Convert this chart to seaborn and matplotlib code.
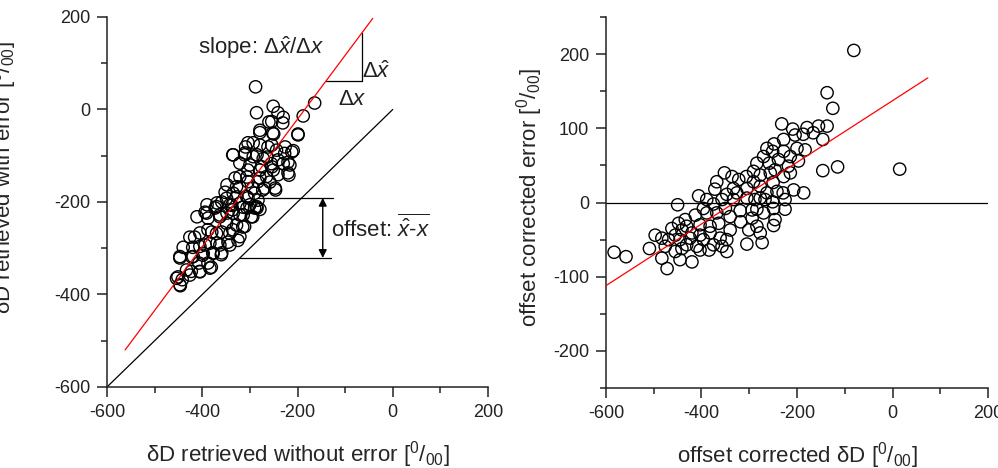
import numpy as np
import pandas as pd
import seaborn as sns
import matplotlib
matplotlib.use("Agg")
import matplotlib.pyplot as plt
from matplotlib.ticker import MultipleLocator

# ---------------- data: left panel ----------------
left_x = [-288, -286, -251, -241, -230, -260, -279, -250, -164, -188, -199, -209, -216, -218,
          -246, -293, -309, -335, -311, -293, -272, -262, -244, -227, -230, -255, -279, -304,
          -321, -328, -304, -283, -265, -251, -269, -290, -307, -335, -349, -342, -321, -300,
          -286, -279, -391, -370, -363, -335, -314, -297, -349, -328, -311, -388, -370, -342,
          -321, -416, -405, -384, -363, -342, -398, -377, -360, -419, -447, -407, -388, -381,
          -433, -423, -454, -442, -446, -405,
          -254, -231, -279, -252, -199, -304, -279, -254, -226, -212, -336, -310, -285, -264,
          -241, -220, -321, -300, -275, -254, -220, -241, -331, -306, -279, -258, -247, -348,
          -321, -294, -273, -352, -327, -304, -283, -359, -338, -315, -290, -394, -373, -348,
          -321, -294,
          -390, -369, -411, -388, -363, -336, -306, -285, -426, -405, -380, -359, -336, -315,
          -440, -420, -394, -369, -346, -325, -447, -422, -399, -378, -359, -384, -405, -426,
          -451, -447]
left_y = [49, -7, 7, -7, -17, -27, -45, -53, 14, -14, -53, -89, -120, -142,
          -174, -72, -81, -98, -98, -102, -106, -81, -88, -95, -117, -117, -131, -131,
          -145, -167, -156, -156, -145, -131, -170, -181, -188, -181, -192, -206, -203, -206,
          -210, -216, -224, -210, -232, -224, -228, -232, -246, -250, -253, -260, -268, -268,
          -275, -276, -296, -289, -293, -293, -311, -311, -314, -318, -318, -332, -332, -341,
          -347, -350, -365, -368, -381, -350,
          -26, -29, -50, -51, -55, -72, -77, -77, -81, -92, -98, -94, -98, -103,
          -109, -114, -116, -120, -124, -124, -137, -141, -148, -146, -148, -157, -170, -163,
          -168, -170, -174, -179, -189, -191, -196, -200, -207, -211, -213, -222, -213, -224,
          -228, -232,
          -206, -202, -232, -235, -228, -217, -213, -213, -276, -267, -265, -265, -260, -254,
          -298, -298, -293, -289, -287, -283, -321, -319, -315, -310, -310, -343, -351, -358,
          -362, -379]
left_fit_x = [-562, -42]
left_fit_y = [-520, 197]
identity_x = [-600, 0]
identity_y = [-600, 0]
slope_tri_x = [-140, -65, -65]
slope_tri_y = [62, 62, 166]
offset_upper_x = [-283, -126]
offset_upper_y = [-191, -191]
offset_lower_x = [-321, -130]
offset_lower_y = [-321, -321]
offset_arrow_x = -147

# ---------------- data: right panel ----------------
right_x = [-81, -137, -125, 15, -115, -146, -232, -209, -179, -155, -137, -146, -228, -204,
           -183, -200, -248, -263, -228, -214, -251, -270, -284, -258, -239, -218, -246, -228,
           -214, -256, -277, -291, -291, -306, -322, -352, -368, -336, -333, -305, -277, -263,
           -242, -207, -186, -225, -251, -225, -277, -305, -333, -357, -389, -406, -450, -375,
           -396, -350, -319, -294, -270, -249, -294, -318, -340, -368, -389, -413, -434, -448,
           -431, -403, -382, -364, -340, -284, -249, -277, -301, -420, -441, -462, -497, -483,
           -469, -455, -445, -424, -403, -382, -361, -347, -357, -375, -396, -410, -431, -441,
           -455, -476, -509, -403, -384, -347, -305, -273, -420, -445, -483, -472, -583, -558,
           -166, -187, -197, -250, -229, -326, -347, -372, -288, -267, -284, -246]
right_y = [205, 148, 127, 45, 48, 43, 106, 99, 101, 103, 103, 85, 85, 91,
           71, 73, 79, 73, 69, 62, 69, 62, 53, 53, 58, 49, 44, 35,
           40, 40, 37, 42, 28, 35, 31, 40, 28, 35, 19, 19, 22, 13,
           15, 17, 13, 4, 1, -9, 6, 6, 4, 4, 4, 9, -3, -2,
           -8, -8, -11, -10, -14, -8, -21, -26, -19, -14, -14, -17, -23, -28,
           -32, -30, -32, -28, -37, -32, -31, -41, -37, -41, -37, -35, -44, -48,
           -50, -44, -50, -48, -44, -41, -48, -50, -59, -57, -50, -59, -57, -62,
           -66, -59, -62, -64, -64, -66, -56, -54, -80, -77, -75, -89, -67, -73,
           94, 92, 56, 27, 13, 13, 11, 18, 4, 4, -9, -23]
right_fit_x = [-600, 74]
right_fit_y = [-112, 168]
zero_x = [-600, 200]
zero_y = [0, 0]

# ---------------- style ----------------
sns.set_style("ticks")
plt.rcParams["font.family"] = ["Liberation Sans", "DejaVu Sans"]
plt.rcParams["mathtext.fontset"] = "custom"
plt.rcParams["mathtext.rm"] = "Liberation Sans"
plt.rcParams["mathtext.it"] = "Liberation Sans:italic"
plt.rcParams["mathtext.bf"] = "Liberation Sans:bold"
plt.rcParams["axes.unicode_minus"] = False
plt.rcParams["text.color"] = "#222222"

TICK_FS = 13
LABEL_FS = 16
ANN_FS = 16

fig = plt.figure(figsize=(9.98, 4.68), dpi=100)
axL = fig.add_axes([0.1072, 0.1731, 0.3818, 0.7906])
axR = fig.add_axes([0.6072, 0.1709, 0.3828, 0.7927])


def style_axis(ax):
    for s in ["top", "right"]:
        ax.spines[s].set_visible(False)
    for s in ["left", "bottom"]:
        ax.spines[s].set_linewidth(1.1)
        ax.spines[s].set_color("#222222")
    ax.tick_params(which="major", direction="out", length=7, width=1.1,
                   labelsize=TICK_FS, colors="#222222", pad=5)
    ax.tick_params(which="minor", direction="out", length=4, width=1.1,
                   colors="#222222")


# ---------------- left panel ----------------
sns.scatterplot(x=left_x, y=left_y, ax=axL, marker="o", s=78,
                facecolor="none", edgecolor="black", linewidth=1.0, zorder=3)
sns.lineplot(x=identity_x, y=identity_y, ax=axL, color="black", linewidth=0.9)
sns.lineplot(x=left_fit_x, y=left_fit_y, ax=axL, color="red", linewidth=0.9, zorder=4)
axL.plot(slope_tri_x, slope_tri_y, color="black", linewidth=0.9)
axL.plot(offset_upper_x, offset_upper_y, color="black", linewidth=0.9)
axL.plot(offset_lower_x, offset_lower_y, color="black", linewidth=0.9)
axL.annotate("", xy=(offset_arrow_x, offset_lower_y[0]),
             xytext=(offset_arrow_x, offset_upper_y[0]),
             arrowprops=dict(arrowstyle="<|-|>", color="black", lw=1.0,
                             mutation_scale=12, shrinkA=0, shrinkB=0))
axL.text(-409, 133, r"slope: Δ$\hat{x}$/Δ$x$", fontsize=ANN_FS, va="center", ha="left")
axL.text(-64, 81, r"Δ$\hat{x}$", fontsize=ANN_FS, va="center", ha="left")
axL.text(-115, 22, r"Δ$x$", fontsize=ANN_FS, va="center", ha="left")
axL.text(-129, -258, r"offset: $\overline{\hat{x}\text{-}x}$", fontsize=ANN_FS,
         va="center", ha="left")

axL.set_xlim(-600, 200)
axL.set_ylim(-600, 200)
axL.xaxis.set_major_locator(MultipleLocator(200))
axL.xaxis.set_minor_locator(MultipleLocator(100))
axL.yaxis.set_major_locator(MultipleLocator(200))
axL.yaxis.set_minor_locator(MultipleLocator(100))
style_axis(axL)
axL.set_xlabel(r"δD retrieved without error [$^{0}$/$_{00}$]", fontsize=LABEL_FS, labelpad=13)
axL.set_ylabel(r"δD retrieved with error [$^{0}$/$_{00}$]", fontsize=LABEL_FS)
axL.yaxis.set_label_coords(-0.23, 0.565)

# ---------------- right panel ----------------
sns.scatterplot(x=right_x, y=right_y, ax=axR, marker="o", s=78,
                facecolor="none", edgecolor="black", linewidth=1.0, zorder=3)
sns.lineplot(x=zero_x, y=zero_y, ax=axR, color="black", linewidth=0.9)
sns.lineplot(x=right_fit_x, y=right_fit_y, ax=axR, color="red", linewidth=0.9, zorder=4)

axR.set_xlim(-600, 200)
axR.set_ylim(-250, 250)
axR.xaxis.set_major_locator(MultipleLocator(200))
axR.xaxis.set_minor_locator(MultipleLocator(100))
axR.yaxis.set_major_locator(MultipleLocator(100))
axR.yaxis.set_minor_locator(MultipleLocator(50))
style_axis(axR)
axR.set_xlabel(r"offset corrected δD [$^{0}$/$_{00}$]", fontsize=LABEL_FS, labelpad=13)
axR.set_ylabel(r"offset corrected error [$^{0}$/$_{00}$]", fontsize=LABEL_FS)
axR.yaxis.set_label_coords(-0.16, 0.515)

fig.savefig("out.png", dpi=100)
